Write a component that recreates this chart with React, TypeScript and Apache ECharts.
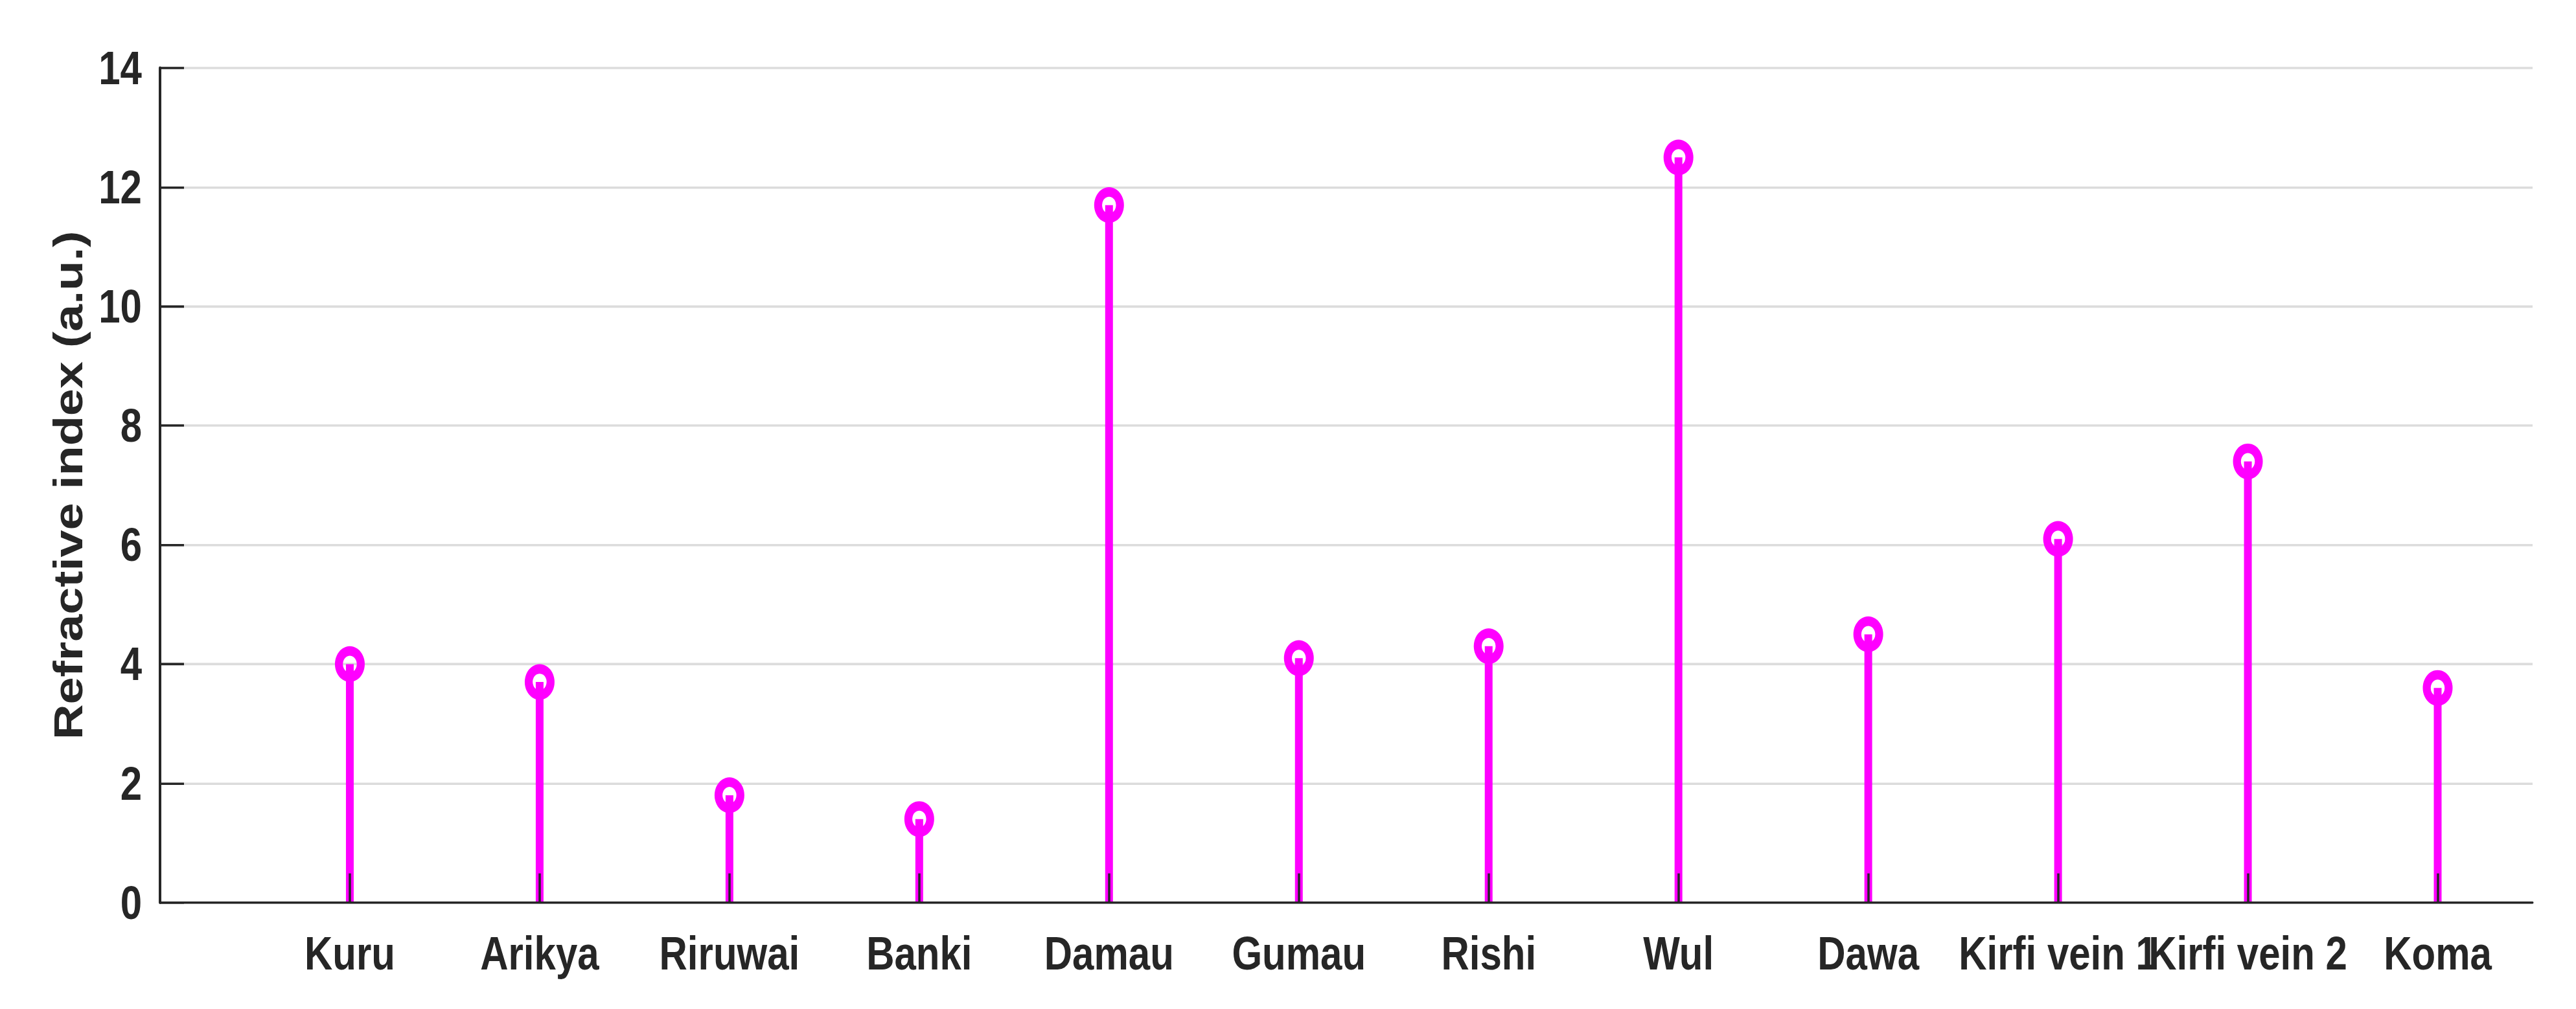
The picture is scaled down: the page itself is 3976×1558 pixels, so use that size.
import React, { useEffect, useRef } from "react";
import * as echarts from "echarts";

const categories = ["Kuru", "Arikya", "Riruwai", "Banki", "Damau", "Gumau", "Rishi", "Wul", "Dawa", "Kirfi vein 1", "Kirfi vein 2", "Koma"];
const positions = [1, 2, 3, 4, 5, 6, 7, 8, 9, 10, 11, 12];
const refractiveIndex = [4.0, 3.7, 1.8, 1.4, 11.7, 4.1, 4.3, 12.5, 4.5, 6.1, 7.4, 3.6];
const yTicks = [0, 2, 4, 6, 8, 10, 12, 14];

const MAGENTA = "#ff00ff";
const INK = "#262626";
const FONT = "'Liberation Sans', Arial, sans-serif";

// The reference figure is stretched vertically; render unstretched and scale.
const STRETCH = 1.2;
const W = 3976;
const H = 1558;

export default function App() {
  const ref = useRef<HTMLDivElement>(null);

  useEffect(() => {
    if (!ref.current) return;
    const chart = echarts.init(ref.current, null, { renderer: "svg" });
    const data = positions.map((p, i) => [p, refractiveIndex[i]]);
    const innerH = H / STRETCH;
    chart.setOption({
      animation: false,
      backgroundColor: "#ffffff",
      grid: { left: 247, right: 67, top: 105 / STRETCH, bottom: innerH - 1394 / STRETCH, containLabel: false },
      xAxis: {
        type: "value",
        min: 0,
        max: 12.5,
        z: 10,
        axisLine: { show: true, onZero: true, lineStyle: { color: INK, width: 3 } },
        axisTick: {
          show: true,
          inside: true,
          length: 45 / STRETCH,
          customValues: positions,
          lineStyle: { color: INK, width: 3.5 },
        },
        axisLabel: {
          show: true,
          customValues: positions,
          showMinLabel: true,
          showMaxLabel: true,
          hideOverlap: false,
          margin: 35,
          color: INK,
          fontSize: 60,
          fontWeight: "bold",
          fontFamily: FONT,
          formatter: (v: number) => categories[Math.round(v) - 1] ?? "",
        },
        splitLine: { show: false },
      },
      yAxis: {
        type: "value",
        min: yTicks[0],
        max: yTicks[yTicks.length - 1],
        interval: 2,
        name: "Refractive index (a.u.)",
        nameLocation: "middle",
        nameRotate: 90,
        nameGap: 110,
        nameTextStyle: {
          color: INK,
          fontSize: 63,
          fontWeight: "bold",
          fontFamily: FONT,
        },
        axisLine: { show: true, lineStyle: { color: INK, width: 4 } },
        axisTick: { show: true, inside: true, length: 37, lineStyle: { color: INK, width: 3 } },
        axisLabel: {
          margin: 28,
          color: INK,
          fontSize: 60,
          fontWeight: "bold",
          fontFamily: FONT,
        },
        splitLine: { show: true, lineStyle: { color: "#dcdcdc", width: 3 } },
      },
      series: [
        {
          type: "custom",
          silent: true,
          z: 2,
          data,
          encode: { x: 0, y: 1 },
          renderItem: (_params: any, api: any) => {
            const x = api.value(0);
            const v = api.value(1);
            const top = api.coord([x, v]);
            const bot = api.coord([x, 0]);
            return {
              type: "group",
              children: [
                {
                  type: "rect",
                  shape: { x: top[0] - 6, y: top[1], width: 12, height: bot[1] - top[1] },
                  style: { fill: MAGENTA },
                },
                {
                  type: "ring",
                  shape: { cx: top[0], cy: top[1], r: 23, r0: 10.75 },
                  style: { fill: MAGENTA },
                },
              ],
            };
          },
        },
      ],
    });
    return () => chart.dispose();
  }, []);

  return (
    <div style={{ position: "fixed", left: 0, top: 0, width: W, height: H, background: "#fff", overflow: "hidden" }}>
      <div
        ref={ref}
        style={{
          position: "absolute",
          left: 0,
          top: 0,
          width: W,
          height: H / STRETCH,
          transform: `scaleY(${STRETCH})`,
          transformOrigin: "0 0",
        }}
      />
    </div>
  );
}
